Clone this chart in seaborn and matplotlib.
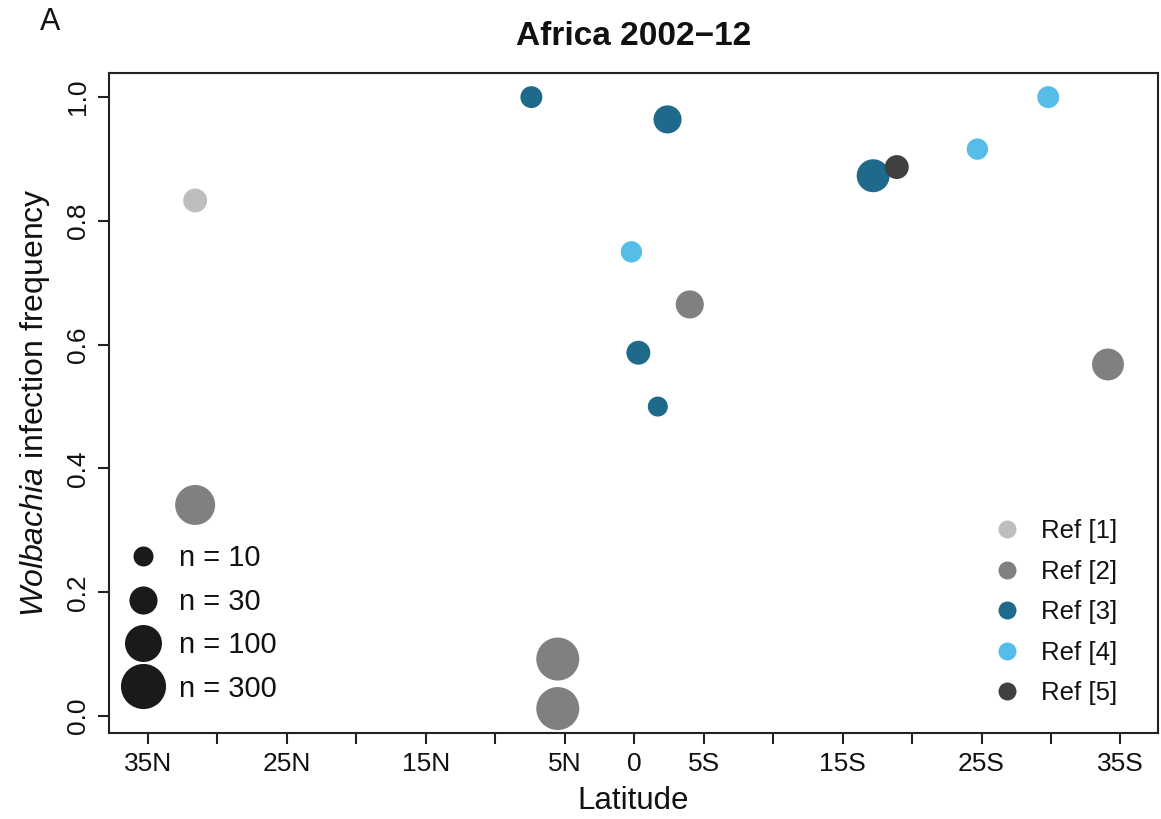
import numpy as np
import pandas as pd
import matplotlib
matplotlib.use("Agg")
import matplotlib.pyplot as plt
from matplotlib.lines import Line2D
import seaborn as sns

# ---- data (latitude: positive = North, negative = South) ----
ref_labels = ["Ref [1]", "Ref [2]", "Ref [3]", "Ref [4]", "Ref [5]"]
ref_colors = ["#BEBEBE", "#808080", "#1F6A8B", "#56BDE9", "#404040"]

ref = ["Ref [1]",
       "Ref [2]", "Ref [2]", "Ref [2]", "Ref [2]", "Ref [2]",
       "Ref [3]", "Ref [3]", "Ref [3]", "Ref [3]", "Ref [3]",
       "Ref [4]", "Ref [4]", "Ref [4]",
       "Ref [5]"]
latitude = [31.6,
            31.6, 5.5, 5.5, -4.0, -34.1,
            7.4, -2.4, -17.2, -0.3, -1.7,
            0.2, -24.7, -29.8,
            -18.9]
frequency = [0.833,
             0.341, 0.092, 0.012, 0.665, 0.568,
             1.0, 0.964, 0.873, 0.587, 0.5,
             0.75, 0.916, 1.0,
             0.887]
sample_n = [17,
            150, 225, 225, 30, 50,
            13, 30, 58, 17, 10,
            12, 12, 13,
            17]

legend_n = [10, 30, 100, 300]
x_ticks = [35, 30, 25, 20, 15, 10, 5, 0, -5, -10, -15, -20, -25, -30, -35]
x_tick_labels = ["35N", "", "25N", "", "15N", "", "5N", "0", "5S", "", "15S", "", "25S", "", "35S"]
y_ticks = [0.0, 0.2, 0.4, 0.6, 0.8, 1.0]

df = pd.DataFrame({"lat": latitude, "freq": frequency, "ref": ref, "n": sample_n})

DPI = 100
def diam_pt(n):
    # marker diameter grows with log(n)
    return (17 * np.log10(n) + 3) * 72.0 / DPI

size_map = {v: diam_pt(v) ** 2 for v in sorted(set(sample_n))}

sns.set_style("ticks")
plt.rcParams["font.family"] = ["Liberation Sans", "DejaVu Sans"]
plt.rcParams["mathtext.fontset"] = "custom"
plt.rcParams["mathtext.it"] = "Liberation Sans:italic"
plt.rcParams["mathtext.rm"] = "Liberation Sans"

TXT = "#111111"
fig = plt.figure(figsize=(11.61, 8.19), dpi=DPI)
ax = fig.add_axes([109 / 1161, 1 - 733 / 819, (1158 - 109) / 1161, (733 - 73) / 819])

sns.scatterplot(data=df, x="lat", y="freq", hue="ref", hue_order=ref_labels,
                palette=dict(zip(ref_labels, ref_colors)),
                size="n", sizes=size_map, linewidth=0, alpha=1,
                legend=False, ax=ax, zorder=3)

ax.set_xlim(37.8, -37.7)
ax.set_ylim(-0.0275, 1.039)
ax.set_xticks(x_ticks)
ax.set_xticklabels(x_tick_labels)
ax.set_yticks(y_ticks)
ax.set_yticklabels([f"{v:.1f}" for v in y_ticks], rotation=90, va="center")

for s in ax.spines.values():
    s.set_visible(True)
    s.set_linewidth(1.5)
    s.set_color("#222222")
ax.tick_params(axis="both", length=8, width=1.5, color="#222222",
               labelsize=19, labelcolor=TXT, pad=6)

ax.set_xlabel("Latitude", fontsize=22.5, color=TXT, labelpad=7)
ax.set_ylabel(r"$\it{Wolbachia}$ infection frequency", fontsize=23, color=TXT, labelpad=10)
ax.set_title("Africa 2002\u221212", fontsize=24, fontweight="bold", color=TXT, pad=20)
fig.text(50 / 1161, 1 - 22 / 819, "A", fontsize=22, ha="center", va="center", color=TXT)

# size legend (bottom-left)
size_handles = [Line2D([0], [0], marker="o", linestyle="none", markerfacecolor="#1a1a1a",
                       markeredgewidth=0, markersize=diam_pt(v)) for v in legend_n]
leg1 = ax.legend(size_handles, [f"n = {v}" for v in legend_n], loc="center left",
                 bbox_to_anchor=(0.0115, 0.166), frameon=False, fontsize=21,
                 handlelength=1.5, handletextpad=0.5, labelspacing=0.53, borderpad=0,
                 borderaxespad=0)
for t in leg1.get_texts():
    t.set_color(TXT)
ax.add_artist(leg1)

# reference legend (bottom-right)
ref_handles = [Line2D([0], [0], marker="o", linestyle="none", markerfacecolor=c,
                      markeredgewidth=0, markersize=18 * 72 / DPI) for c in ref_colors]
leg2 = ax.legend(ref_handles, ref_labels, loc="center left", bbox_to_anchor=(0.838, 0.183),
                 frameon=False, fontsize=18.5, handlelength=1.5, handletextpad=0.55,
                 labelspacing=0.64, borderpad=0, borderaxespad=0)
for t in leg2.get_texts():
    t.set_color(TXT)

fig.savefig("out.png", dpi=DPI)
